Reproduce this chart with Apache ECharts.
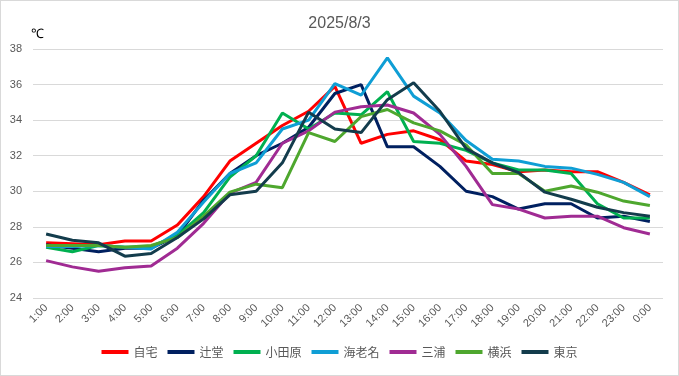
<!DOCTYPE html>
<html>
<head>
<meta charset="utf-8">
<script src="https://cdn.jsdelivr.net/npm/echarts@6/dist/echarts.min.js"></script>
<style>
  html, body { margin: 0; padding: 0; background: #fff; }
  #chart { width: 677px; height: 374px; border: 1px solid #d9d9d9; }
</style>
</head>
<body>
<div id="chart"></div>
<script>
const hours = ['1:00', '2:00', '3:00', '4:00', '5:00', '6:00', '7:00', '8:00', '9:00', '10:00', '11:00', '12:00',
  '13:00', '14:00', '15:00', '16:00', '17:00', '18:00', '19:00', '20:00', '21:00', '22:00', '23:00', '0:00'];

const jitaku = [27.1, 27.05, 27.0, 27.2, 27.2, 28.1, 29.7, 31.7, 32.7, 33.7, 34.5, 35.9,
  32.7, 33.2, 33.4, 32.9, 31.7, 31.5, 31.1, 31.2, 31.1, 31.1, 30.5, 29.8];
const tsujido = [27.0, 26.8, 26.6, 26.8, 26.8, 27.5, 29.5, 31.0, 32.0, 32.7, 33.6, 35.5,
  36.0, 32.5, 32.5, 31.4, 30.0, 29.7, 29.0, 29.3, 29.3, 28.5, 28.6, 28.3];
const odawara = [26.85, 26.6, 26.95, 26.85, 26.9, 27.5, 28.8, 30.8, 32.0, 34.4, 33.5, 34.4,
  34.3, 35.6, 32.8, 32.7, 32.3, 31.6, 31.2, 31.2, 31.0, 29.3, 28.5, 28.5];
const ebina = [26.9, 26.9, 26.95, 26.85, 26.75, 27.7, 29.4, 31.0, 31.6, 33.5, 34.0, 36.05,
  35.4, 37.5, 35.35, 34.4, 32.85, 31.8, 31.7, 31.4, 31.3, 30.95, 30.5, 29.7];
const miura = [26.1, 25.75, 25.5, 25.7, 25.8, 26.8, 28.2, 29.9, 30.5, 32.7, 33.4, 34.45,
  34.75, 34.85, 34.4, 33.2, 31.4, 29.25, 29.0, 28.5, 28.6, 28.6, 27.95, 27.6];
const yokohama = [26.95, 26.95, 26.95, 26.85, 26.95, 27.4, 28.6, 29.95, 30.4, 30.2, 33.3, 32.8,
  34.2, 34.6, 33.85, 33.4, 32.6, 31.0, 31.0, 30.0, 30.3, 29.95, 29.45, 29.2];
const tokyo = [27.6, 27.25, 27.1, 26.35, 26.5, 27.4, 28.45, 29.8, 30.0, 31.6, 34.45, 33.5,
  33.3, 35.15, 36.1, 34.5, 32.4, 31.6, 31.05, 29.95, 29.55, 29.1, 28.8, 28.6];

const seriesDefs = [
  ['自宅', jitaku, '#ff0000'],
  ['辻堂', tsujido, '#002060'],
  ['小田原', odawara, '#00b050'],
  ['海老名', ebina, '#0f9ed5'],
  ['三浦', miura, '#a02b93'],
  ['横浜', yokohama, '#4ea72e'],
  ['東京', tokyo, '#133c4c']
];

const chart = echarts.init(document.getElementById('chart'));

const option = {
  animation: false,
  textStyle: { fontFamily: 'Liberation Sans, Arial, sans-serif' },
  title: {
    text: '2025/8/3',
    left: 'center',
    top: 10,
    textStyle: { color: '#595959', fontSize: 16, fontWeight: 'normal' }
  },
  legend: {
    bottom: 12,
    left: 'center',
    icon: 'rect',
    itemWidth: 27,
    itemHeight: 4,
    itemGap: 10,
    textStyle: { color: '#595959', fontSize: 12, fontFamily: 'Noto Sans CJK JP' },
    data: seriesDefs.map(s => s[0])
  },
  grid: {
    left: 32,
    right: 15,
    top: 48,
    bottom: 77
  },
  xAxis: {
    type: 'category',
    data: hours,
    boundaryGap: true,
    axisLine: { show: false },
    axisTick: { show: false },
    axisLabel: { rotate: 45, color: '#595959', fontSize: 11, margin: 8, interval: 0 }
  },
  yAxis: {
    type: 'value',
    name: '℃',
    nameLocation: 'end',
    nameGap: 8,
    nameTextStyle: { color: '#000', fontSize: 13, align: 'left', padding: [0, 0, 0, -2] },
    min: 24,
    max: 38,
    interval: 2,
    axisLine: { show: false },
    axisTick: { show: false },
    axisLabel: { color: '#595959', fontSize: 11, margin: 11 },
    splitLine: { lineStyle: { color: '#d9d9d9', width: 1 } }
  },
  series: seriesDefs.map(([name, values, color]) => ({
    name: name,
    type: 'line',
    data: values,
    showSymbol: false,
    symbol: 'none',
    color: color,
    lineStyle: { color: color, width: 3 },
    itemStyle: { color: color }
  }))
};

chart.setOption(option);
</script>
</body>
</html>
